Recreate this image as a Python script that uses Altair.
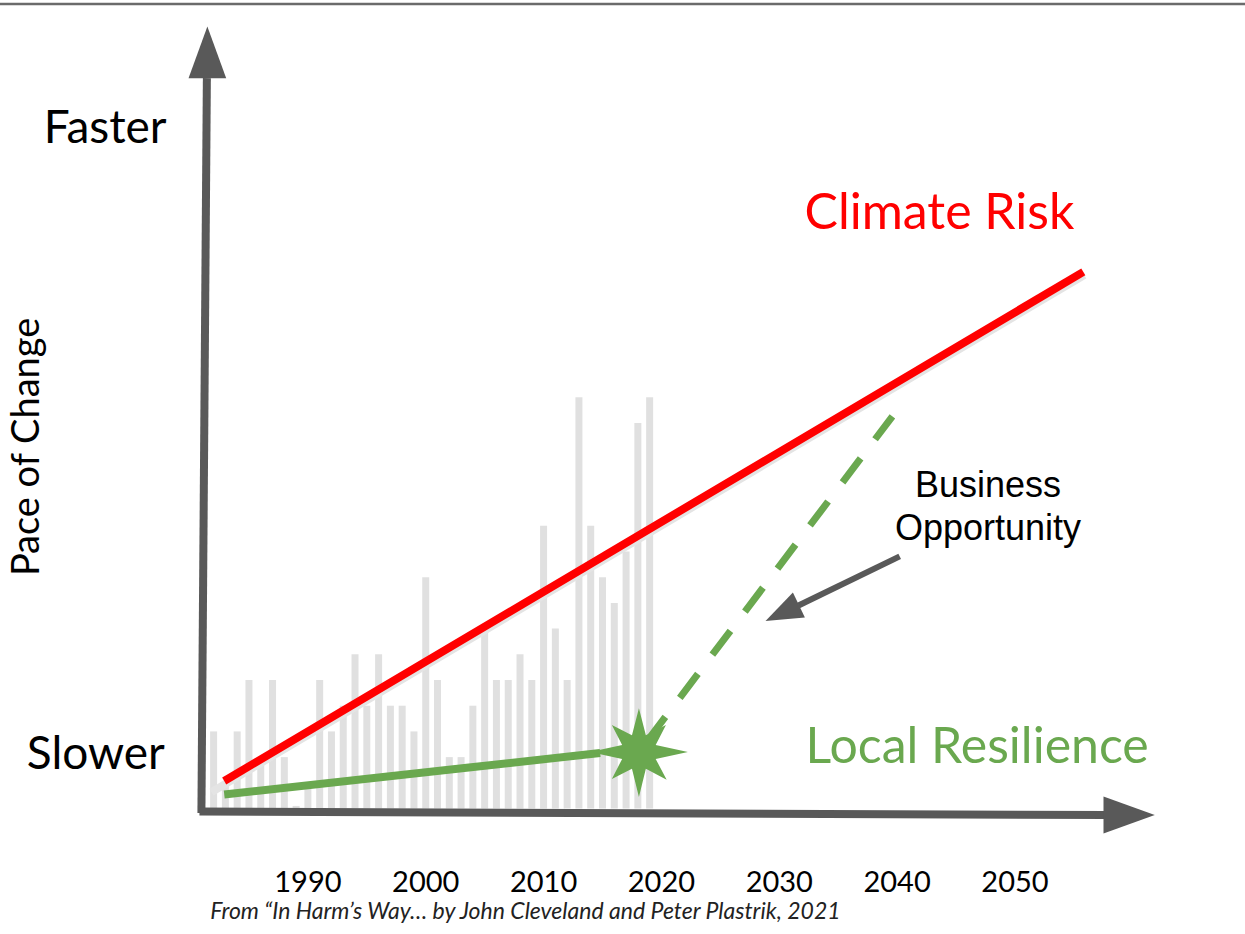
import math
import altair as alt
import pandas as pd

# ---------------- data ----------------
bar_years = list(range(1982, 2020))
bar_values = [3, 1, 3, 5, 2, 5, 2, 0.1, 1, 5,
              3, 4, 6, 4, 6, 4, 4, 3, 9, 5,
              2, 2, 4, 7, 5, 5, 6, 5, 11, 7,
              5, 16, 11, 9, 8, 10, 15, 16]

tick_years = [1990, 2000, 2010, 2020, 2030, 2040, 2050]
tick_labels = ["1990", "2000", "2010", "2020", "2030", "2040", "2050"]

# trend lines (year, pace) end points
climate_x = [1982.90, 2055.80]
climate_y = [1.07, 20.88]
shadow_x = [1981.824, 2055.88]
shadow_y = [0.638, 20.76]
resil_x = [1982.90, 2014.80]
resil_y = [0.545, 2.16]
opp_x = [2018.80, 2039.60]
opp_y = [2.63, 15.26]
star_x = [2018.09]
star_y = [2.20]

# hand-drawn axes
yaxis_x = [1980.965, 1981.428]
yaxis_y = [-0.175, 28.42]
xaxis_x = [1980.80, 2057.73]
xaxis_y = [-0.117, -0.253]
pointer_x = [2031.63, 2040.22]
pointer_y = [7.90, 9.81]

# ---------------- scales ----------------
X0, X1 = 1964.298, 2069.096
Y0, Y1 = -4.883, 31.459
xs = alt.Scale(domain=[X0, X1], nice=False, zero=False)
ys = alt.Scale(domain=[Y0, Y1], nice=False, zero=False)

GRAY = "#595959"
RED = "#ff0000"
GREEN = "#6aa84f"
FONT = "Lato"


def enc(chart):
    return chart.encode(
        x=alt.X("x:Q", scale=xs, axis=None),
        y=alt.Y("y:Q", scale=ys, axis=None),
    )


def seg(xv, yv):
    return pd.DataFrame({"x": xv, "y": yv})


bars_df = pd.DataFrame({"x": bar_years, "y": bar_values, "b": [0] * len(bar_years)})
bars = alt.Chart(bars_df).mark_bar(size=7, color="#e0e0e0").encode(
    x=alt.X("x:Q", scale=xs, axis=None),
    y=alt.Y("y:Q", scale=ys, axis=None),
    y2="b:Q",
)

shadow = enc(alt.Chart(seg(shadow_x, shadow_y)).mark_line(
    color="#e4e4e4", strokeWidth=8, strokeCap="butt"))
climate = enc(alt.Chart(seg(climate_x, climate_y)).mark_line(
    color=RED, strokeWidth=8, strokeCap="butt"))
resil = enc(alt.Chart(seg(resil_x, resil_y)).mark_line(
    color=GREEN, strokeWidth=8, strokeCap="butt"))
opp = enc(alt.Chart(seg(opp_x, opp_y)).mark_line(
    color=GREEN, strokeWidth=7, strokeCap="butt", strokeDash=[30, 24]))

# 8 point star
radii = [0.89, 0.78, 1.0, 0.8, 0.92, 0.78, 1.0, 0.78]
pts = []
for i in range(16):
    a = math.radians(i * 22.5)
    r = radii[i // 2] if i % 2 == 0 else 0.37
    pts.append((r * math.sin(a), -r * math.cos(a)))
star_path = "M" + "L".join(f"{px:.3f},{py:.3f}" for px, py in pts) + "Z"
star = enc(alt.Chart(seg(star_x, star_y)).mark_point(
    shape=star_path, size=9604, filled=True, color=GREEN, opacity=1, strokeWidth=0))

yaxis = enc(alt.Chart(seg(yaxis_x, yaxis_y)).mark_line(
    color=GRAY, strokeWidth=8, strokeCap="butt"))
xaxis = enc(alt.Chart(seg(xaxis_x, xaxis_y)).mark_line(
    color=GRAY, strokeWidth=8, strokeCap="butt"))
yhead = enc(alt.Chart(seg([1981.47], [29.42])).mark_point(
    shape="M0,-1L0.73,1L-0.73,1Z", size=2663, filled=True, color=GRAY, opacity=1, strokeWidth=0))
xhead = enc(alt.Chart(seg([2059.69], [-0.253])).mark_point(
    shape="M1,0L-1,0.72L-1,-0.72Z", size=2632, filled=True, color=GRAY, opacity=1, strokeWidth=0))

pointer = enc(alt.Chart(seg(pointer_x, pointer_y)).mark_line(
    color=GRAY, strokeWidth=6, strokeCap="butt"))
phead = enc(alt.Chart(seg([2030.25], [7.61])).mark_point(
    shape="M1,0L-1,0.75L-1,-0.75Z", size=1369, angle=154.4, filled=True,
    color=GRAY, opacity=1, strokeWidth=0))

top_rule = alt.Chart(pd.DataFrame({"y": [31.30]})).mark_rule(
    color="#6b6b6b", strokeWidth=2.5).encode(
    y=alt.Y("y:Q", scale=ys, axis=None), x=alt.value(0), x2=alt.value(1245))


def label(text, x, y, **kw):
    df = pd.DataFrame({"x": [x], "y": [y], "t": [text]})
    return enc(alt.Chart(df).mark_text(**kw)).encode(text="t:N")


faster = label("Faster", 1967.58, 25.89, font=FONT, fontSize=46, align="left",
               baseline="alphabetic", color="black")
slower = label("Slower", 1966.15, 1.54, font=FONT, fontSize=46, align="left",
               baseline="alphabetic", color="black")
pace = label("Pace of Change", 1966.24, 14.07, font=FONT, fontSize=38, align="center",
             baseline="middle", angle=270, color="black")
climate_t = label("Climate Risk", 2032.14, 22.55, font=FONT, fontSize=50, align="left",
                  baseline="alphabetic", color=RED)
resil_t = label("Local Resilience", 2032.23, 1.77, font=FONT, fontSize=50, align="left",
                baseline="alphabetic", color=GREEN)
biz1 = label("Business", 2047.716, 12.12, font="Liberation Sans", fontSize=36,
             align="center", baseline="alphabetic", color="black")
biz2 = label("Opportunity", 2047.716, 10.45, font="Liberation Sans", fontSize=36,
             align="center", baseline="alphabetic", color="black")
caption = label("From \u201cIn Harm\u2019s Way\u2026 by John Cleveland and Peter Plastrik, 2021",
                1981.72, -4.31, font=FONT, fontSize=23, fontStyle="italic",
                align="left", baseline="alphabetic", color="#222222")

ticks_df = pd.DataFrame({"x": tick_years, "y": [-2.90] * len(tick_years), "t": tick_labels})
ticks = enc(alt.Chart(ticks_df).mark_text(
    font=FONT, fontSize=29, align="center", baseline="middle", color="black")).encode(text="t:N")

chart = alt.layer(
    top_rule, bars, shadow, climate, resil, opp, star, yaxis, xaxis, yhead, xhead,
    pointer, phead, faster, slower, pace, climate_t, resil_t, biz1, biz2,
    caption, ticks,
).properties(
    width=1245, height=934, padding=0,
    autosize=alt.AutoSizeParams(type="none"),
    background="white",
).configure_view(stroke=None)

chart.save("out.html", embed_options={"renderer": "svg", "actions": False})
